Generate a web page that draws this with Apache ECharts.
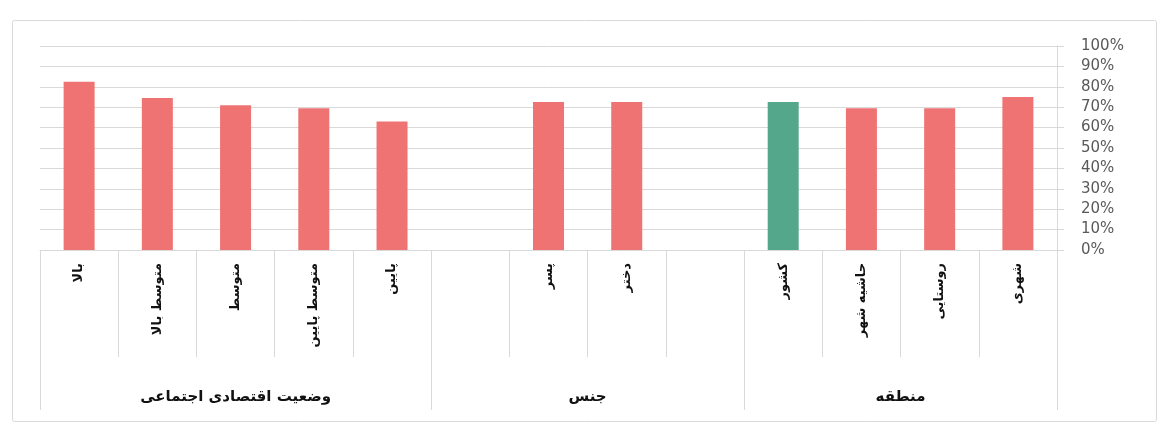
<!DOCTYPE html>
<html>
<head>
<meta charset="utf-8">
<script src="https://cdn.jsdelivr.net/npm/echarts@6/dist/echarts.min.js"></script>
<style>
  html, body { margin: 0; padding: 0; background: #ffffff; }
  #chart { width: 1163px; height: 425px; }
</style>
</head>
<body>
<div id="chart"></div>
<script>
// Category slots (empty strings are spacer slots between groups)
const categories = ['بالا', 'متوسط بالا', 'متوسط', 'متوسط پایین', 'پایین', '', 'پسر', 'دختر', '', 'کشور', 'حاشیه شهر', 'روستایی', 'شهری'];
// Percentages per slot
const values = [82.5, 74.5, 71, 69.5, 63, null, 72.5, 72.5, null, 72.5, 69.5, 69.5, 75];
// Outer grouping of the slots
const groupNames = ['وضعیت اقتصادی اجتماعی', 'جنس', 'منطقه'];
const groupSizes = [5, 4, 4];
// Y axis tick labels
const yTicks = [0, 10, 20, 30, 40, 50, 60, 70, 80, 90, 100];

const highlightName = 'کشور';
const barColor = '#ef7373';
const highlightColor = '#54a78a';
const lineColor = '#d9d9d9';

// Group boundaries and centres along a 0..N value scale
const groupEdges = [0];
groupSizes.forEach(s => groupEdges.push(groupEdges[groupEdges.length - 1] + s));
const groupCentres = groupSizes.map((s, i) => groupEdges[i] + s / 2);

const chart = echarts.init(document.getElementById('chart'), null, { renderer: 'canvas' });

chart.setOption({
  animation: false,
  backgroundColor: '#ffffff',
  graphic: [{
    type: 'rect',
    shape: { x: 12.5, y: 20.5, width: 1144, height: 401, r: 2 },
    style: { fill: 'none', stroke: lineColor, lineWidth: 1 },
    silent: true,
    z: -1
  }],
  grid: { left: 40, right: 106, top: 46, bottom: 175, containLabel: false },
  xAxis: [{
    type: 'category',
    data: categories,
    position: 'bottom',
    axisLine: { show: true, onZero: false, lineStyle: { color: lineColor, width: 1 } },
    axisTick: { show: true, alignWithLabel: false, interval: 0, length: 107, lineStyle: { color: lineColor } },
    axisLabel: {
      interval: 0,
      rotate: 90,
      margin: 13,
      color: '#111111',
      fontFamily: 'DejaVu Sans',
      fontWeight: 'bold',
      fontSize: 13
    },
    splitLine: { show: false }
  }, {
    type: 'value',
    position: 'bottom',
    min: 0,
    max: categories.length,
    axisLine: { show: false, onZero: false },
    axisTick: { show: true, customValues: groupEdges, length: 160, lineStyle: { color: lineColor } },
    axisLabel: {
      show: true,
      customValues: groupCentres,
      margin: 140,
      color: '#111111',
      fontFamily: 'DejaVu Sans',
      fontWeight: 'bold',
      fontSize: 15,
      formatter: v => {
        const i = groupCentres.indexOf(v);
        return i >= 0 ? groupNames[i] : '';
      }
    },
    splitLine: { show: false }
  }],
  yAxis: {
    type: 'value',
    position: 'right',
    min: yTicks[0],
    max: yTicks[yTicks.length - 1],
    interval: 10,
    axisLine: { show: true, onZero: false, lineStyle: { color: lineColor } },
    axisTick: { show: true, length: 7, lineStyle: { color: lineColor } },
    axisLabel: {
      margin: 24,
      color: '#595959',
      fontFamily: 'DejaVu Sans',
      fontSize: 15,
      formatter: '{value}%'
    },
    splitLine: { show: true, lineStyle: { color: lineColor, width: 1 } }
  },
  series: [{
    type: 'bar',
    xAxisIndex: 0,
    barWidth: 31,
    data: values.map((v, i) => ({
      value: v,
      itemStyle: { color: categories[i] === highlightName ? highlightColor : barColor }
    }))
  }]
});
</script>
</body>
</html>
